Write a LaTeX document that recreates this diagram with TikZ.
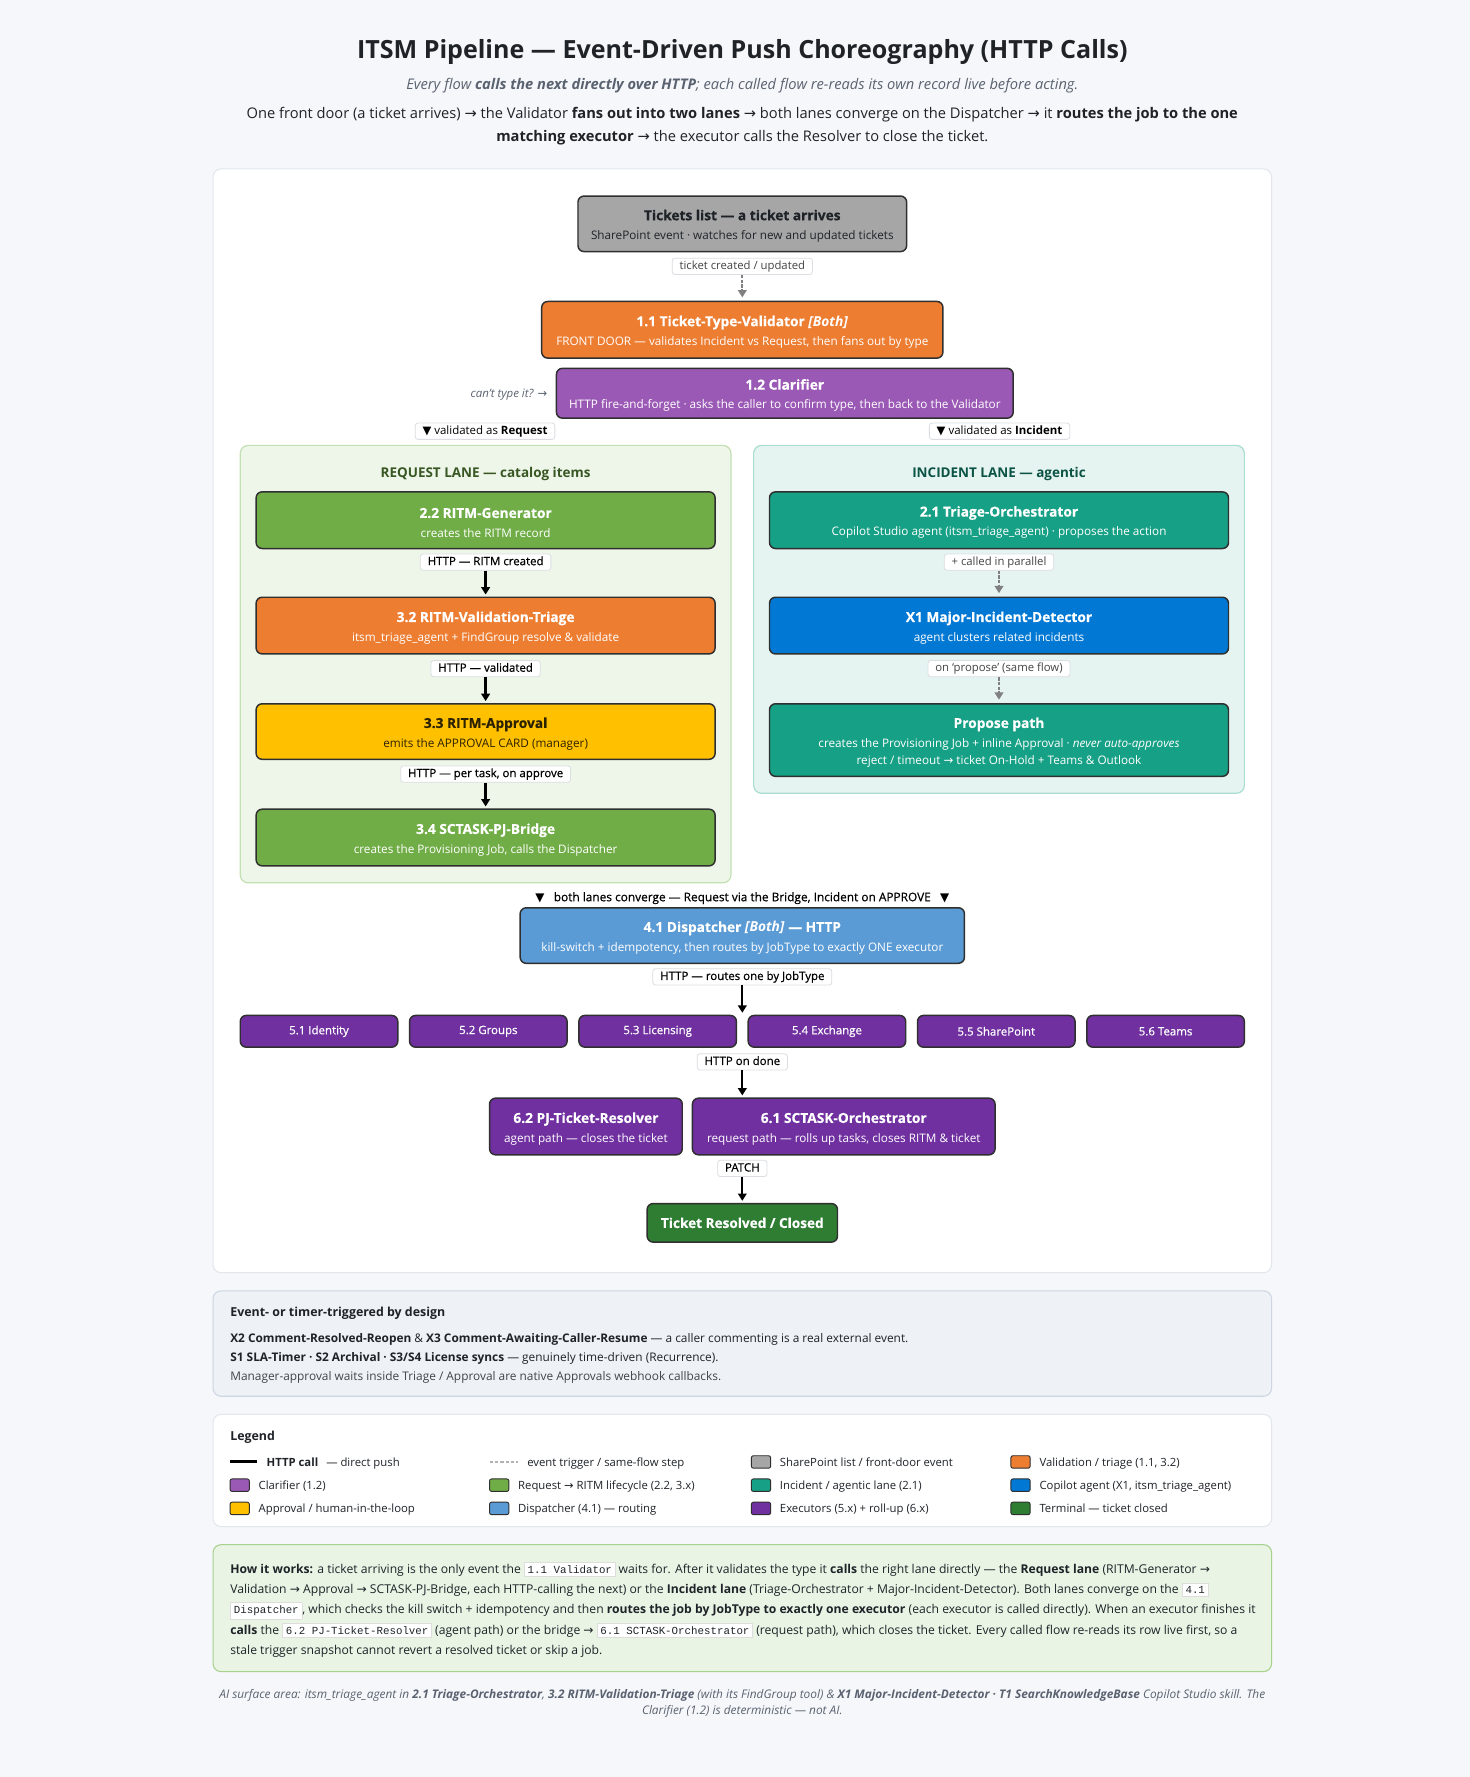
\documentclass[tikz,border=0pt]{standalone}
\usepackage{fontspec}
\setmainfont{Open Sans}
\setmonofont{Liberation Mono}
\newfontfamily\dejavu{DejaVu Sans}
\newfontfamily\semib[FakeBold=0.6]{Open Sans}
\newfontfamily\heavy[BoldFeatures={FakeBold=0.5}]{Open Sans}
\usetikzlibrary{arrows.meta}
\newcommand\fsz[2]{\fontsize{#1}{#2}\selectfont}
\newcommand\ra{{\dejavu →}}
\newcommand\tri{{\dejavu ▼}}
\newcommand\bt[2]{{\heavy\fsz{10.3}{11}\bfseries\rule{0pt}{11.2pt}#1}\\[3.5pt]#2}
\newcommand\chip[1]{{\setlength\fboxsep{2.2pt}\setlength\fboxrule{0.5pt}\fcolorbox{chipline}{white}{\ttfamily\fsz{8.1}{9}#1}}}
\definecolor{bgc}{HTML}{F5F7FA}
\definecolor{panelline}{HTML}{E3E7EC}
\definecolor{titlec}{HTML}{1F2328}
\definecolor{subc}{HTML}{5A6270}
\definecolor{grayc}{HTML}{A6A6A6}
\definecolor{boxline}{HTML}{2F2F2F}
\definecolor{orangec}{HTML}{ED7D31}
\definecolor{clarc}{HTML}{9B59B6}
\definecolor{reqfill}{HTML}{EEF6EA}
\definecolor{reqline}{HTML}{C2E0B2}
\definecolor{incfill}{HTML}{E6F4F1}
\definecolor{incline}{HTML}{A8DDD0}
\definecolor{reqtitle}{HTML}{385723}
\definecolor{inctitle}{HTML}{0B5345}
\definecolor{greenc}{HTML}{70AD47}
\definecolor{yellowc}{HTML}{FFC000}
\definecolor{yellowt}{HTML}{2D2200}
\definecolor{tealc}{HTML}{16A085}
\definecolor{bluec}{HTML}{0078D4}
\definecolor{dispc}{HTML}{5B9BD5}
\definecolor{execc}{HTML}{7030A0}
\definecolor{termc}{HTML}{2E7D32}
\definecolor{lblline}{HTML}{DADDE1}
\definecolor{lblgray}{HTML}{444444}
\definecolor{evfill}{HTML}{EEF1F6}
\definecolor{evline}{HTML}{CDD6E2}
\definecolor{howfill}{HTML}{E9F4E5}
\definecolor{howline}{HTML}{A9D18E}
\definecolor{chipline}{HTML}{DDDDDD}
\definecolor{dashc}{HTML}{808080}
\begin{document}
\begin{tikzpicture}[x=0.85pt,y=-0.85pt,
  wh/.style 2 args={minimum width=#1*0.85pt, minimum height=#2*0.85pt},
  box/.style={draw=boxline, line width=1.1pt, rounded corners=4.5pt, align=center, inner sep=0pt, text=white, font=\fsz{8.8}{11}},
  lane/.style={line width=0.9pt, rounded corners=6pt, inner sep=0pt},
  infobox/.style={line width=0.8pt, rounded corners=6pt, inner sep=0pt},
  lbl/.style={fill=white, draw=lblline, line width=0.6pt, rounded corners=2pt, inner xsep=5.5pt, inner ysep=1.8pt, text height=6.6pt, text depth=2pt, font=\semib\fsz{8.6}{10}, text=black},
  elbl/.style={lbl, font=\fsz{8.5}{10}, text=lblgray},
  arr/.style={-{Triangle[width=6.5pt,length=5.5pt]}, line width=1.7pt, black, shorten >=1.5pt},
  darr/.style={-{Triangle[width=6.5pt,length=5.5pt]}, line width=1.7pt, dashc, dash pattern=on 2.5pt off 1pt, shorten >=2.5pt},
  exec/.style={box, fill=execc, wh={139}{28}, font=\semib\fsz{8.6}{10}},
  sw/.style={draw=boxline, line width=0.7pt, rounded corners=1.5pt, wh={17}{11}, inner sep=0pt},
  txt/.style={anchor=base west, inner sep=0pt, font=\fsz{8.9}{10}, text=titlec},
  legt/.style={anchor=base west, inner sep=0pt, font=\fsz{8.5}{10}, text=titlec},
  howt/.style={anchor=base west, inner sep=0pt, font=\fsz{9.12}{10}, text=titlec},
]
\useasboundingbox[fill=bgc] (0,0) rectangle (1297,1568);

% ---------- header
\node[font=\fsz{18.8}{22}\bfseries, text=titlec] (title) at (655,45.5) {ITSM Pipeline — Event-Driven Push Choreography (HTTP Calls)};
\node[font=\fsz{11}{13}\itshape, text=subc] (sub) at (655,76) {Every flow \textbf{calls the next directly over HTTP}; each called flow re-reads its own record live before acting.};
\node[font=\fsz{11}{13}, text=titlec] (intro1) at (655,101.5) {One front door (a ticket arrives) \ra{} the Validator \textbf{fans out into two lanes} \ra{} both lanes converge on the Dispatcher \ra{} it \textbf{routes the job to the one}};
\node[font=\fsz{11}{13}, text=titlec] (intro2) at (655,121.5) {\textbf{matching executor} \ra{} the executor calls the Resolver to close the ticket.};

% ---------- panel
\node[infobox, fill=white, draw=panelline, wh={934}{974}] (panel) at (655,636) {};

% ---------- front door
\node[box, wh={290}{49}, fill=grayc, text=titlec] (tickets) at (655,197.5) {\bt{Tickets list — a ticket arrives}{SharePoint event · watches for new and updated tickets}};
\node[elbl] (l0) at (655,235) {ticket created / updated};
\node[box, wh={354}{50}, fill=orangec] (val) at (655,291) {\bt{1.1 Ticket-Type-Validator \textit{[Both]}}{FRONT DOOR — validates Incident vs Request, then fans out by type}};
\draw[darr] (l0.south) -- (val.north);
\node[box, wh={403}{44}, fill=clarc] (clar) at (692.5,347) {\bt{1.2 Clarifier}{HTTP fire-and-forget · asks the caller to confirm type, then back to the Validator}};
\node[font=\fsz{8.6}{10}\itshape, text=subc, anchor=east, inner sep=0pt] (cant) at (483,348) {can’t type it? \ra};
\node[lbl, font=\fsz{8.6}{10}] (vreq) at (428,380.5) {\tri{} validated as \textbf{Request}};
\node[lbl, font=\fsz{8.6}{10}] (vinc) at (882,380.5) {\tri{} validated as \textbf{Incident}};

% ---------- lanes
\node[lane, fill=reqfill, draw=reqline, wh={433}{386}] (reqlane) at (428.5,586) {};
\node[lane, fill=incfill, draw=incline, wh={433}{307}] (inclane) at (881.5,546.5) {};
\node[font=\fsz{10.1}{12}\bfseries, text=reqtitle] (reqt) at (428.5,418.5) {REQUEST LANE — catalog items};
\node[font=\fsz{10.1}{12}\bfseries, text=inctitle] (inct) at (881.5,418.5) {INCIDENT LANE — agentic};

% request lane
\node[box, wh={405}{50}, fill=greenc] (ritm) at (428.5,459) {\bt{2.2 RITM-Generator}{creates the RITM record}};
\node[lbl] (l1) at (428.5,496) {HTTP — RITM created};
\node[box, wh={405}{50}, fill=orangec] (rvt) at (428.5,552) {\bt{3.2 RITM-Validation-Triage}{itsm\_triage\_agent + FindGroup resolve \& validate}};
\node[lbl] (l2) at (428.5,590) {HTTP — validated};
\node[box, wh={405}{49}, fill=yellowc, text=yellowt] (appr) at (428.5,645.5) {\bt{3.3 RITM-Approval}{emits the APPROVAL CARD (manager)}};
\node[lbl] (l3) at (428.5,683) {HTTP — per task, on approve};
\node[box, wh={405}{50}, fill=greenc] (bridge) at (428.5,739) {\bt{3.4 SCTASK-PJ-Bridge}{creates the Provisioning Job, calls the Dispatcher}};
\draw[arr] (l1.south) -- (rvt.north);
\draw[arr] (l2.south) -- (appr.north);
\draw[arr] (l3.south) -- (bridge.north);

% incident lane
\node[box, wh={405}{50}, fill=tealc] (tri) at (881.5,459) {\bt{2.1 Triage-Orchestrator}{Copilot Studio agent (itsm\_triage\_agent) · proposes the action}};
\node[elbl] (l4) at (881.5,496) {+ called in parallel};
\node[box, wh={405}{50}, fill=bluec] (x1) at (881.5,552) {\bt{X1 Major-Incident-Detector}{agent clusters related incidents}};
\node[elbl] (l5) at (881.5,590) {on ‘propose’ (same flow)};
\node[box, wh={405}{64}, fill=tealc] (prop) at (881.5,653) {{\heavy\fsz{10.3}{11}\bfseries\rule{0pt}{11.2pt}Propose path}\\[3.5pt]creates the Provisioning Job + inline Approval · \textit{never auto-approves}\\[1.75pt]reject / timeout \ra{} ticket On-Hold + Teams \& Outlook};
\draw[darr] (l4.south) -- (x1.north);
\draw[darr] (l5.south) -- (prop.north);

% ---------- dispatcher
\node[font=\semib\fsz{8.9}{10}, text=black] (conv) at (655,792.5) {\tri\hspace{7pt}both lanes converge — Request via the Bridge, Incident on APPROVE\hspace{7pt}\tri};
\node[box, wh={392}{49}, fill=dispc] (disp) at (655,825.5) {\bt{4.1 Dispatcher \textit{[Both]} — HTTP}{kill-switch + idempotency, then routes by JobType to exactly ONE executor}};
\node[lbl] (l6) at (655,862) {HTTP — routes one by JobType};

% executors
\node[exec] (e1) at (281.5,910) {5.1 Identity};
\node[exec] (e2) at (430.9,910) {5.2 Groups};
\node[exec] (e3) at (580.3,910) {5.3 Licensing};
\node[exec] (e4) at (729.7,910) {5.4 Exchange};
\node[exec] (e5) at (879.1,910) {5.5 SharePoint};
\node[exec] (e6) at (1028.5,910) {5.6 Teams};
\draw[arr] (l6.south) -- (l6.south |- e4.north);

\node[lbl] (l7) at (655,937) {HTTP on done};
\node[box, wh={170}{50}, fill=execc] (r62) at (517,994) {\bt{6.2 PJ-Ticket-Resolver}{agent path — closes the ticket}};
\node[box, wh={267}{50}, fill=execc] (r61) at (744.5,994) {\bt{6.1 SCTASK-Orchestrator}{request path — rolls up tasks, closes RITM \& ticket}};
\draw[arr] (l7.south) -- (l7.south |- r61.north);
\node[lbl] (l8) at (655,1031) {PATCH};
\node[box, wh={168}{34}, fill=termc, font=\heavy\fsz{10.2}{11}\bfseries] (term) at (655,1079) {Ticket Resolved / Closed};
\draw[arr] (l8.south) -- (term.north);

% ---------- event box
\node[infobox, fill=evfill, draw=evline, wh={934}{93}] (ev) at (655,1185.5) {};
\node[txt, font=\fsz{9.3}{10}\bfseries] (evt) at (203,1162) {Event- or timer-triggered by design};
\node[txt] (ev1) at (203,1185) {\textbf{X2 Comment-Resolved-Reopen} \& \textbf{X3 Comment-Awaiting-Caller-Resume} — a caller commenting is a real external event.};
\node[txt] (ev2) at (203,1201) {\textbf{S1 SLA-Timer · S2 Archival · S3/S4 License syncs} — genuinely time-driven (Recurrence).};
\node[txt, text=titlec!85] (ev3) at (203,1218) {Manager-approval waits inside Triage / Approval are native Approvals webhook callbacks.};

% ---------- legend
\node[infobox, fill=white, draw=panelline, wh={934}{99}] (leg) at (655,1297.5) {};
\node[txt, font=\fsz{9.3}{10}\bfseries] (legt) at (203,1271) {Legend};
\draw[line width=2.2pt, black] (203,1290) -- (227,1290);
\node[legt] (lg1) at (235,1294) {\textbf{HTTP call}\hspace{6pt}— direct push};
\draw[line width=1.5pt, dashc!60, dash pattern=on 2.6pt off 1.4pt] (432,1290) -- (457,1290);
\node[legt] (lg2) at (465,1294) {event trigger / same-flow step};
\node[sw, fill=grayc] (s3) at (671.5,1290) {};
\node[legt] (lg3) at (688,1294) {SharePoint list / front-door event};
\node[sw, fill=orangec] (s4) at (900.5,1290) {};
\node[legt] (lg4) at (917,1294) {Validation / triage (1.1, 3.2)};
\node[sw, fill=clarc] (s5) at (211.5,1310.5) {};
\node[legt] (lg5) at (228,1314.5) {Clarifier (1.2)};
\node[sw, fill=greenc] (s6) at (440.5,1310.5) {};
\node[legt] (lg6) at (457,1314.5) {Request \ra{} RITM lifecycle (2.2, 3.x)};
\node[sw, fill=tealc] (s7) at (671.5,1310.5) {};
\node[legt] (lg7) at (688,1314.5) {Incident / agentic lane (2.1)};
\node[sw, fill=bluec] (s8) at (900.5,1310.5) {};
\node[legt] (lg8) at (917,1314.5) {Copilot agent (X1, itsm\_triage\_agent)};
\node[sw, fill=yellowc] (s9) at (211.5,1331) {};
\node[legt] (lg9) at (228,1335) {Approval / human-in-the-loop};
\node[sw, fill=dispc] (s10) at (440.5,1331) {};
\node[legt] (lg10) at (457,1335) {Dispatcher (4.1) — routing};
\node[sw, fill=execc] (s11) at (671.5,1331) {};
\node[legt] (lg11) at (688,1335) {Executors (5.x) + roll-up (6.x)};
\node[sw, fill=termc] (s12) at (900.5,1331) {};
\node[legt] (lg12) at (917,1335) {Terminal — ticket closed};

% ---------- how it works
\node[infobox, fill=howfill, draw=howline, wh={934}{112}] (how) at (655,1419) {};
\node[howt] (h1) at (203,1388) {\textbf{How it works:} a ticket arriving is the only event the \chip{1.1 Validator} waits for. After it validates the type it \textbf{calls} the right lane directly — the \textbf{Request lane} (RITM-Generator \ra};
\node[howt] (h2) at (203,1406) {Validation \ra{} Approval \ra{} SCTASK-PJ-Bridge, each HTTP-calling the next) or the \textbf{Incident lane} (Triage-Orchestrator + Major-Incident-Detector). Both lanes converge on the \chip{4.1}};
\node[howt] (h3) at (203,1424) {\chip{Dispatcher}, which checks the kill switch + idempotency and then \textbf{routes the job by JobType to exactly one executor} (each executor is called directly). When an executor finishes it};
\node[howt] (h4) at (203,1442) {\textbf{calls} the \chip{6.2 PJ-Ticket-Resolver} (agent path) or the bridge \ra{} \chip{6.1 SCTASK-Orchestrator} (request path), which closes the ticket. Every called flow re-reads its row live first, so a};
\node[howt] (h5) at (203,1460) {stale trigger snapshot cannot revert a resolved ticket or skip a job.};

% ---------- footer
\node[font=\fsz{8.9}{10}\itshape, text=subc] (f1) at (655,1496) {AI surface area: itsm\_triage\_agent in \textbf{2.1 Triage-Orchestrator}, \textbf{3.2 RITM-Validation-Triage} (with its FindGroup tool) \& \textbf{X1 Major-Incident-Detector · T1 SearchKnowledgeBase} Copilot Studio skill. The};
\node[font=\fsz{8.9}{10}\itshape, text=subc] (f2) at (655,1510) {Clarifier (1.2) is deterministic — not AI.};
\end{tikzpicture}
\end{document}
